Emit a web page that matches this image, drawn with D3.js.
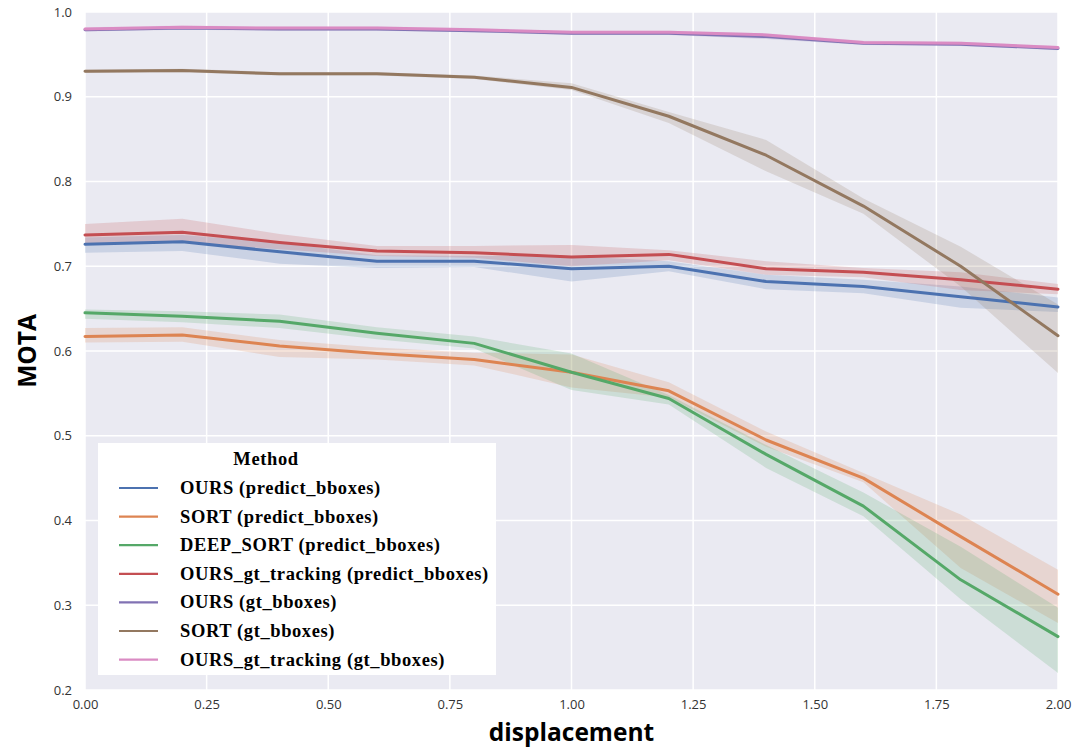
<!DOCTYPE html>
<html>
<head>
<meta charset="utf-8">
<script src="https://cdn.jsdelivr.net/npm/d3@7"></script>
<style>
  body { margin: 0; background: #fff; }
  svg { display: block; }
</style>
</head>
<body>
<svg id="chart" width="1085" height="754"></svg>
<script>
// displacement steps
const displacement = [0, 0.2, 0.4, 0.6, 0.8, 1.0, 1.2, 1.4, 1.6, 1.8, 2.0];

const methods = [
  "OURS (predict_bboxes)",
  "SORT (predict_bboxes)",
  "DEEP_SORT (predict_bboxes)",
  "OURS_gt_tracking (predict_bboxes)",
  "OURS (gt_bboxes)",
  "SORT (gt_bboxes)",
  "OURS_gt_tracking (gt_bboxes)"
];
const colors = ["#4C72B0", "#DD8452", "#55A868", "#C44E52", "#8172B3", "#937860", "#DA8BC3"];

// mean MOTA per method
const oursPred      = [0.726, 0.729, 0.717, 0.706, 0.706, 0.697, 0.700, 0.682, 0.676, 0.664, 0.652];
const sortPred      = [0.617, 0.619, 0.606, 0.597, 0.590, 0.575, 0.553, 0.495, 0.450, 0.381, 0.313];
const deepSortPred  = [0.645, 0.641, 0.635, 0.621, 0.609, 0.575, 0.544, 0.478, 0.417, 0.330, 0.263];
const oursGtTrPred  = [0.737, 0.740, 0.728, 0.718, 0.716, 0.711, 0.714, 0.697, 0.693, 0.684, 0.673];
const oursGt        = [0.979, 0.981, 0.980, 0.980, 0.978, 0.975, 0.975, 0.971, 0.963, 0.962, 0.957];
const sortGt        = [0.930, 0.931, 0.927, 0.927, 0.923, 0.911, 0.877, 0.831, 0.771, 0.700, 0.618];
const oursGtTrGt    = [0.980, 0.982, 0.981, 0.981, 0.979, 0.976, 0.976, 0.973, 0.964, 0.963, 0.958];

// confidence band lower / upper
const oursPredLo     = [0.716, 0.718, 0.703, 0.698, 0.699, 0.682, 0.694, 0.673, 0.668, 0.651, 0.646];
const oursPredHi     = [0.734, 0.737, 0.728, 0.713, 0.712, 0.712, 0.706, 0.690, 0.684, 0.676, 0.663];
const sortPredLo     = [0.610, 0.611, 0.593, 0.590, 0.583, 0.557, 0.545, 0.487, 0.445, 0.344, 0.279];
const sortPredHi     = [0.627, 0.628, 0.613, 0.604, 0.598, 0.596, 0.563, 0.505, 0.456, 0.407, 0.342];
const deepSortPredLo = [0.638, 0.634, 0.627, 0.614, 0.603, 0.554, 0.537, 0.462, 0.405, 0.307, 0.220];
const deepSortPredHi = [0.649, 0.647, 0.643, 0.628, 0.617, 0.597, 0.548, 0.489, 0.433, 0.369, 0.297];
const oursGtTrPredLo = [0.726, 0.728, 0.720, 0.712, 0.710, 0.700, 0.707, 0.690, 0.687, 0.672, 0.667];
const oursGtTrPredHi = [0.750, 0.756, 0.738, 0.724, 0.724, 0.725, 0.719, 0.706, 0.698, 0.693, 0.679];
const oursGtLo       = [0.977, 0.979, 0.978, 0.978, 0.976, 0.973, 0.973, 0.968, 0.961, 0.960, 0.955];
const oursGtHi       = [0.981, 0.983, 0.982, 0.982, 0.980, 0.977, 0.977, 0.974, 0.965, 0.964, 0.959];
const sortGtLo       = [0.928, 0.929, 0.925, 0.925, 0.921, 0.908, 0.869, 0.812, 0.762, 0.676, 0.574];
const sortGtHi       = [0.932, 0.933, 0.929, 0.929, 0.925, 0.916, 0.882, 0.849, 0.780, 0.723, 0.655];
const oursGtTrGtLo   = [0.978, 0.980, 0.979, 0.979, 0.977, 0.974, 0.974, 0.970, 0.962, 0.961, 0.956];
const oursGtTrGtHi   = [0.982, 0.984, 0.983, 0.983, 0.981, 0.978, 0.978, 0.975, 0.966, 0.965, 0.960];

const xTicks = [0, 0.25, 0.5, 0.75, 1.0, 1.25, 1.5, 1.75, 2.0];
const yTicks = [0.2, 0.3, 0.4, 0.5, 0.6, 0.7, 0.8, 0.9, 1.0];

const means = [oursPred, sortPred, deepSortPred, oursGtTrPred, oursGt, sortGt, oursGtTrGt];
const lows  = [oursPredLo, sortPredLo, deepSortPredLo, oursGtTrPredLo, oursGtLo, sortGtLo, oursGtTrGtLo];
const highs = [oursPredHi, sortPredHi, deepSortPredHi, oursGtTrPredHi, oursGtHi, sortGtHi, oursGtTrGtHi];

const series = methods.map((name, i) => ({
  name,
  color: colors[i],
  values: displacement.map((d, j) => ({ x: d, y: means[i][j], lo: lows[i][j], hi: highs[i][j] }))
}));

const svg = d3.select("#chart");
const margin = { top: 12, right: 27, bottom: 64, left: 85 };
const width = 1085 - margin.left - margin.right;
const height = 754 - margin.top - margin.bottom;

const g = svg.append("g").attr("transform", `translate(${margin.left},${margin.top})`);

const x = d3.scaleLinear().domain([0, 2]).range([0, width]);
const y = d3.scaleLinear().domain([0.2, 1.0]).range([height, 0]);

g.append("rect")
  .attr("width", width)
  .attr("height", height)
  .attr("fill", "#EAEAF2");

// grid
g.append("g")
  .selectAll("line")
  .data(xTicks)
  .join("line")
  .attr("x1", d => x(d)).attr("x2", d => x(d))
  .attr("y1", 0).attr("y2", height)
  .attr("stroke", "#fff")
  .attr("stroke-width", 1.5);

g.append("g")
  .selectAll("line")
  .data(yTicks)
  .join("line")
  .attr("x1", 0).attr("x2", width)
  .attr("y1", d => y(d)).attr("y2", d => y(d))
  .attr("stroke", "#fff")
  .attr("stroke-width", 1.5);

// axes (labels only, seaborn style)
const xAxis = g.append("g")
  .attr("transform", `translate(0,${height})`)
  .call(d3.axisBottom(x).tickValues(xTicks).tickFormat(d3.format(".2f")).tickSize(0).tickPadding(10));
const yAxis = g.append("g")
  .call(d3.axisLeft(y).tickValues(yTicks).tickFormat(d3.format(".1f")).tickSize(0).tickPadding(13));

[xAxis, yAxis].forEach(ax => {
  ax.select(".domain").remove();
  ax.selectAll("text")
    .attr("font-family", "'Open Sans', sans-serif")
    .attr("font-size", "13px")
    .attr("fill", "#333");
});

// bands
const area = d3.area()
  .x(d => x(d.x))
  .y0(d => y(d.lo))
  .y1(d => y(d.hi));

const line = d3.line()
  .x(d => x(d.x))
  .y(d => y(d.y));

g.append("g")
  .selectAll("path")
  .data(series)
  .join("path")
  .attr("d", d => area(d.values))
  .attr("fill", d => d.color)
  .attr("fill-opacity", 0.2);

g.append("g")
  .selectAll("path")
  .data(series)
  .join("path")
  .attr("d", d => line(d.values))
  .attr("fill", "none")
  .attr("stroke", d => d.color)
  .attr("stroke-width", 3)
  .attr("stroke-linejoin", "round")
  .attr("stroke-linecap", "round");

// axis titles
svg.append("text")
  .attr("x", margin.left + width / 2)
  .attr("y", 741)
  .attr("text-anchor", "middle")
  .attr("font-family", "'Open Sans', sans-serif")
  .attr("font-weight", "bold")
  .attr("font-size", "24.5px")
  .attr("fill", "#000")
  .text("displacement");

svg.append("text")
  .attr("transform", `translate(36,${margin.top + height / 2}) rotate(-90)`)
  .attr("text-anchor", "middle")
  .attr("font-family", "'Open Sans', sans-serif")
  .attr("font-weight", "bold")
  .attr("font-size", "24.5px")
  .attr("fill", "#000")
  .text("MOTA");

// legend
const legend = svg.append("g").attr("transform", "translate(98,443)");
legend.append("rect")
  .attr("width", 398)
  .attr("height", 232)
  .attr("fill", "#fff");

legend.append("text")
  .attr("x", 168)
  .attr("y", 22)
  .attr("text-anchor", "middle")
  .attr("font-family", "'Liberation Serif', 'Times New Roman', serif")
  .attr("font-weight", "bold")
  .attr("font-size", "18.5px")
  .attr("letter-spacing", "0.6px")
  .attr("fill", "#000")
  .text("Method");

const rows = legend.selectAll("g.row")
  .data(series)
  .join("g")
  .attr("class", "row")
  .attr("transform", (d, i) => `translate(0,${45 + i * 28.6})`);

rows.append("line")
  .attr("x1", 21).attr("x2", 60)
  .attr("stroke", d => d.color)
  .attr("stroke-width", 2.2);

rows.append("text")
  .attr("x", 82)
  .attr("y", 6)
  .attr("font-family", "'Liberation Serif', 'Times New Roman', serif")
  .attr("font-weight", "bold")
  .attr("font-size", "18.5px")
  .attr("letter-spacing", "0.6px")
  .attr("fill", "#000")
  .text(d => d.name);
</script>
</body>
</html>
